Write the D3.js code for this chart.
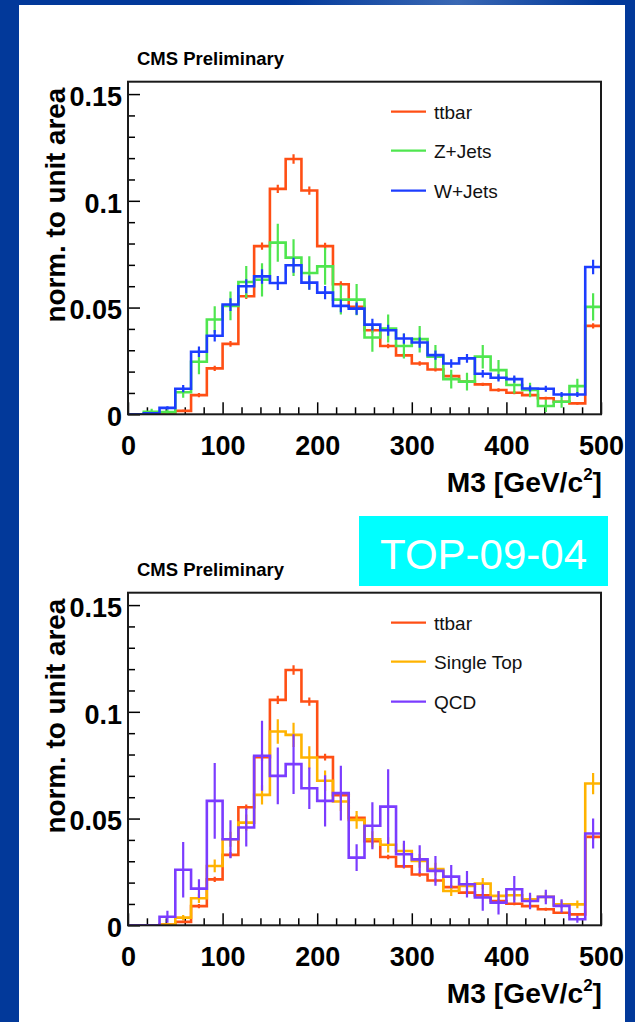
<!DOCTYPE html>
<html>
<head>
<meta charset="utf-8">
<script src="https://cdn.jsdelivr.net/npm/d3@7"></script>
<style>
  html, body { margin: 0; padding: 0; background: #02399a; }
  svg { display: block; }
</style>
</head>
<body>
<svg id="chart" width="635" height="1022"></svg>
<script>
// M3 histogram binning: 30 equal bins from 0 to 500 GeV/c^2
const nBins = 30;
const m3Min = 0;
const m3Max = 500;

// Normalised M3 distributions (bin contents) and their statistical errors
const ttbar = [0, 0, 0.0003, 0.0016, 0.009, 0.0215, 0.033, 0.0553, 0.0788, 0.1056,
  0.1196, 0.1048, 0.0788, 0.0609, 0.0503, 0.0394, 0.032, 0.0276, 0.0238, 0.021,
  0.0179, 0.0153, 0.014, 0.0114, 0.0101, 0.009, 0.0075, 0.0059, 0.0051, 0.0414];
const ttbarErr = [0, 0, 0.0003, 0.0005, 0.001, 0.0012, 0.0013, 0.0013, 0.0017, 0.0019,
  0.0022, 0.0019, 0.0016, 0.0014, 0.0013, 0.0012, 0.0011, 0.001, 0.001, 0.0009,
  0.0009, 0.0008, 0.0008, 0.0008, 0.0007, 0.0007, 0.0007, 0.0006, 0.0006, 0.0012];

const zJets = [0, 0.0012, 0.001, 0.0103, 0.0246, 0.0444, 0.0508, 0.062, 0.063, 0.0804,
  0.0734, 0.0662, 0.0693, 0.0537, 0.0537, 0.036, 0.0402, 0.032, 0.0352, 0.027,
  0.0165, 0.0153, 0.027, 0.0207, 0.0137, 0.0114, 0.0039, 0.0059, 0.0132, 0.0503];
const zJetsErr = [0, 0.0014, 0.0012, 0.0025, 0.0058, 0.0062, 0.0067, 0.0075, 0.0078, 0.0089,
  0.0086, 0.0078, 0.0086, 0.007, 0.0073, 0.0067, 0.0066, 0.0059, 0.0062, 0.0055,
  0.0044, 0.0042, 0.0055, 0.0047, 0.0039, 0.0034, 0.0028, 0.0028, 0.0034, 0.0064];

const wJets = [0, 0.0005, 0.003, 0.012, 0.0293, 0.0368, 0.0514, 0.06, 0.0646, 0.0615,
  0.0698, 0.0617, 0.057, 0.0508, 0.0495, 0.042, 0.0394, 0.0355, 0.0336, 0.0277,
  0.0238, 0.0262, 0.019, 0.0171, 0.0165, 0.0121, 0.012, 0.0093, 0.0093, 0.069];
const wJetsErr = [0, 0.0004, 0.0008, 0.0017, 0.0025, 0.0027, 0.003, 0.0033, 0.0034, 0.0033,
  0.0035, 0.0033, 0.0031, 0.003, 0.0029, 0.0027, 0.0026, 0.0024, 0.0024, 0.0022,
  0.002, 0.0021, 0.0018, 0.0017, 0.0017, 0.0014, 0.0014, 0.0012, 0.0012, 0.0034];

const singleTop = [0, 0, 0.0004, 0.0036, 0.0127, 0.0278, 0.0403, 0.0481, 0.0611, 0.0908,
  0.0892, 0.0786, 0.0677, 0.058, 0.0494, 0.0403, 0.0377, 0.0348, 0.0302, 0.0263,
  0.0161, 0.0184, 0.0195, 0.0138, 0.0141, 0.0122, 0.0133, 0.0098, 0.0098, 0.0664];
const singleTopErr = [0, 0, 0.0005, 0.0012, 0.0022, 0.003, 0.0035, 0.0038, 0.0045, 0.0057,
  0.0057, 0.0053, 0.0048, 0.0045, 0.0042, 0.0038, 0.0036, 0.0035, 0.0032, 0.003,
  0.0024, 0.0025, 0.0026, 0.0022, 0.0022, 0.002, 0.0022, 0.0018, 0.0018, 0.005];

const qcd = [0, 0, 0.004, 0.026, 0.0172, 0.0583, 0.0403, 0.0458, 0.0794, 0.07,
  0.0755, 0.0642, 0.0583, 0.0619, 0.0317, 0.0466, 0.0556, 0.0333, 0.0309, 0.0255,
  0.0228, 0.0192, 0.013, 0.0106, 0.0169, 0.0114, 0.0133, 0.0091, 0.0028, 0.043];
const qcdErr = [0, 0, 0.0028, 0.013, 0.0044, 0.0177, 0.0089, 0.0089, 0.0164, 0.0133,
  0.014, 0.0097, 0.012, 0.0128, 0.0063, 0.011, 0.0175, 0.0063, 0.0066, 0.007,
  0.0055, 0.0062, 0.0062, 0.0055, 0.0062, 0.0039, 0.0034, 0.0031, 0.0016, 0.007];

// Axis ticks and labels
const xTickValues = [0, 100, 200, 300, 400, 500];
const xTickLabels = ["0", "100", "200", "300", "400", "500"];
const xMinorStep = 20;
const yTickValues = [0, 0.05, 0.1, 0.15];
const yTickLabels = ["0", "0.05", "0.1", "0.15"];
const yMinorStep = 0.01;
const yMax = 0.1558;

// Panel contents
const topSeries = [
  { name: "ttbar", values: ttbar, errors: ttbarErr, color: "#ff4f14" },
  { name: "Z+Jets", values: zJets, errors: zJetsErr, color: "#4fe64f" },
  { name: "W+Jets", values: wJets, errors: wJetsErr, color: "#1c3dff" }
];
const bottomSeries = [
  { name: "ttbar", values: ttbar, errors: ttbarErr, color: "#ff4f14" },
  { name: "Single Top", values: singleTop, errors: singleTopErr, color: "#ffb300" },
  { name: "QCD", values: qcd, errors: qcdErr, color: "#7b3cff" }
];

const FONT = "'Liberation Sans', Arial, Helvetica, sans-serif";
const svg = d3.select("#chart");

// slide background with a light streak along the top, and the white page
const defs = svg.append("defs");
const streak = defs.append("linearGradient").attr("id", "streak").attr("x1", 0).attr("x2", 1).attr("y1", 0).attr("y2", 0);
streak.append("stop").attr("offset", 0.45).attr("stop-color", "#02399a");
streak.append("stop").attr("offset", 0.72).attr("stop-color", "#3a68b4");
streak.append("stop").attr("offset", 0.95).attr("stop-color", "#02399a");
svg.append("rect").attr("width", 635).attr("height", 1022).attr("fill", "#02399a");
svg.append("rect").attr("width", 635).attr("height", 5).attr("fill", "url(#streak)");
svg.append("rect").attr("x", 19).attr("y", 5).attr("width", 606).attr("height", 1017).attr("fill", "#ffffff");

const frameLeft = 128, frameRight = 601, frameHeight = 332.6;
const edges = d3.range(nBins + 1).map(i => m3Min + i * (m3Max - m3Min) / nBins);

function drawPanel(frameTop, series, id) {
  const g = svg.append("g");
  const x = d3.scaleLinear().domain([m3Min, m3Max]).range([frameLeft, frameRight]);
  const y = d3.scaleLinear().domain([0, yMax]).range([frameTop + frameHeight, frameTop]);

  g.append("clipPath").attr("id", "clip-" + id)
    .append("rect")
    .attr("x", frameLeft).attr("y", frameTop)
    .attr("width", frameRight - frameLeft).attr("height", frameHeight);

  // minor ticks
  const xMinor = d3.range(m3Min, m3Max + 1, xMinorStep).filter(v => !xTickValues.includes(v));
  g.append("g")
    .attr("transform", `translate(0,${y(0)})`)
    .call(d3.axisBottom(x).tickValues(xMinor).tickSize(-7).tickFormat(""))
    .call(a => a.select(".domain").remove())
    .call(a => a.selectAll("line").attr("stroke", "#000").attr("stroke-width", 1.5));

  const yMinor = d3.range(0, yMax, yMinorStep).filter(v => !yTickValues.some(t => Math.abs(t - v) < 1e-9));
  g.append("g")
    .attr("transform", `translate(${frameLeft},0)`)
    .call(d3.axisLeft(y).tickValues(yMinor).tickSize(-7).tickFormat(""))
    .call(a => a.select(".domain").remove())
    .call(a => a.selectAll("line").attr("stroke", "#000").attr("stroke-width", 1.5));

  // major ticks with labels
  g.append("g")
    .attr("transform", `translate(0,${y(0)})`)
    .call(d3.axisBottom(x).tickValues(xTickValues).tickFormat((d, i) => xTickLabels[i])
      .tickSize(-12).tickPadding(21.5))
    .call(a => a.select(".domain").remove())
    .call(a => a.selectAll("line").attr("stroke", "#000").attr("stroke-width", 1.5))
    .call(a => a.selectAll("text")
      .attr("font-family", FONT).attr("font-size", 27).attr("font-weight", "bold").attr("fill", "#000"));

  g.append("g")
    .attr("transform", `translate(${frameLeft},0)`)
    .call(d3.axisLeft(y).tickValues(yTickValues).tickFormat((d, i) => yTickLabels[i])
      .tickSize(-12).tickPadding(6))
    .call(a => a.select(".domain").remove())
    .call(a => a.selectAll("line").attr("stroke", "#000").attr("stroke-width", 1.5))
    .call(a => a.selectAll("text")
      .attr("dy", "0.42em")
      .attr("font-family", FONT).attr("font-size", 27).attr("font-weight", "bold").attr("fill", "#000"));

  // histograms
  const plot = g.append("g").attr("clip-path", `url(#clip-${id})`);
  const line = d3.line().x(d => x(d[0])).y(d => y(d[1])).curve(d3.curveStepAfter);
  series.forEach(s => {
    const pts = s.values.map((v, i) => [edges[i], v]);
    pts.push([edges[nBins], s.values[nBins - 1]]);
    plot.append("path")
      .attr("d", line(pts))
      .attr("fill", "none")
      .attr("stroke", s.color)
      .attr("stroke-width", 2.6);
    plot.append("g").selectAll("line")
      .data(s.values.map((v, i) => ({ v, e: s.errors[i], c: (edges[i] + edges[i + 1]) / 2 }))
        .filter(d => d.e > 0))
      .join("line")
      .attr("x1", d => x(d.c)).attr("x2", d => x(d.c))
      .attr("y1", d => y(Math.max(0, d.v - d.e))).attr("y2", d => y(d.v + d.e))
      .attr("stroke", s.color)
      .attr("stroke-width", 2.2);
  });

  // frame
  g.append("rect")
    .attr("x", frameLeft).attr("y", frameTop)
    .attr("width", frameRight - frameLeft).attr("height", frameHeight)
    .attr("fill", "none").attr("stroke", "#1a1a1a").attr("stroke-width", 2);

  // legend
  const legendOffsets = [30, 69, 109];
  series.forEach((s, i) => {
    const ly = frameTop + legendOffsets[i];
    g.append("line")
      .attr("x1", 391).attr("x2", 426).attr("y1", ly).attr("y2", ly)
      .attr("stroke", s.color).attr("stroke-width", 2.2);
    g.append("text")
      .attr("x", 434).attr("y", ly + 7.5)
      .attr("font-family", FONT).attr("font-size", 19).attr("fill", "#111")
      .text(s.name);
  });

  // titles
  g.append("text")
    .attr("x", 137).attr("y", frameTop - 16.5)
    .attr("font-family", FONT).attr("font-size", 18.5).attr("font-weight", "bold").attr("fill", "#000")
    .text("CMS Preliminary");

  g.append("text")
    .attr("transform", `translate(65,${frameTop + 6}) rotate(-90)`)
    .attr("text-anchor", "end")
    .attr("font-family", FONT).attr("font-size", 27.8).attr("font-weight", "bold").attr("fill", "#000")
    .text("norm. to unit area");

  const xt = g.append("text")
    .attr("x", 602).attr("y", y(0) + 77.4)
    .attr("text-anchor", "end")
    .attr("font-family", FONT).attr("font-size", 28.2).attr("font-weight", "bold").attr("fill", "#000");
  xt.append("tspan").text("M3 [GeV/c");
  xt.append("tspan").attr("dy", -11.5).attr("font-size", 17).text("2");
  xt.append("tspan").attr("dy", 11.5).text("]");
}

drawPanel(81.7, topSeries, "top");
drawPanel(592.7, bottomSeries, "bottom");

// analysis tag
svg.append("rect")
  .attr("x", 359).attr("y", 516).attr("width", 249).attr("height", 70)
  .attr("fill", "#00ffff");
svg.append("text")
  .attr("x", 483.5).attr("y", 569)
  .attr("text-anchor", "middle")
  .attr("font-family", FONT).attr("font-size", 42).attr("fill", "#ffffff")
  .text("TOP-09-04");
</script>
</body>
</html>
